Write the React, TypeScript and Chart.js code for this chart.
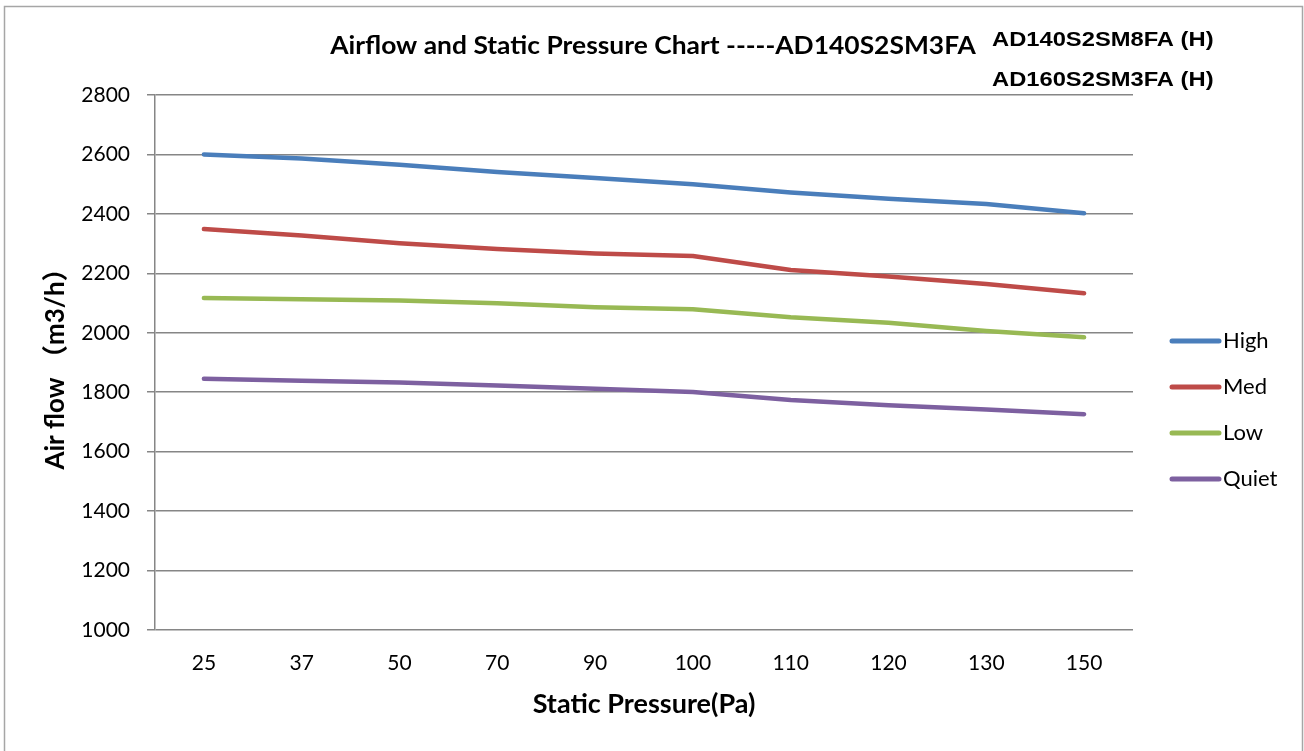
import React, { useEffect, useRef } from 'react';
import { Chart, registerables } from 'chart.js';

Chart.register(...registerables);

const categories = ['25', '37', '50', '70', '90', '100', '110', '120', '130', '150'];
const high = [2600, 2586, 2565, 2541, 2521, 2500, 2472, 2451, 2433, 2402];
const med = [2349, 2327, 2301, 2282, 2267, 2258, 2211, 2189, 2164, 2133];
const low = [2117, 2113, 2109, 2099, 2086, 2079, 2052, 2034, 2006, 1985];
const quiet = [1845, 1839, 1833, 1823, 1812, 1801, 1774, 1756, 1742, 1726];
const seriesNames = ['High', 'Med', 'Low', 'Quiet'];
const seriesColors = ['#4a7ebb', '#be4b48', '#98b954', '#7d60a0'];
const yMin = 1000;
const yMax = 2800;
const yStep = 200;
const titleText = 'Airflow and Static Pressure Chart -----AD140S2SM3FA';
const sideNotes = ['AD140S2SM8FA (H)', 'AD160S2SM3FA (H)'];
const xTitle = 'Static Pressure(Pa)';
const yTitle = 'Air flow （m3/h）';

const W = 1304;
const H = 751;
const GRID = '#868686';

const decorPlugin = {
  id: 'decor',
  beforeDraw(chart: any) {
    const ctx = chart.ctx;
    ctx.save();
    ctx.fillStyle = '#ffffff';
    ctx.fillRect(0, 0, W, H);
    ctx.strokeStyle = '#a6a6a6';
    ctx.lineWidth = 1.5;
    ctx.strokeRect(4.5, 6.5, 1298, 800);
    ctx.restore();
  },
  afterDraw(chart: any) {
    const ctx = chart.ctx;
    ctx.save();
    ctx.fillStyle = '#000000';
    ctx.textBaseline = 'middle';
    ctx.textAlign = 'center';
    ctx.save();
    ctx.translate(653, 46);
    ctx.scale(1.1, 1);
    ctx.font = 'bold 24px Lato';
    ctx.fillText(titleText, 0, 0);
    ctx.restore();
    ctx.textAlign = 'left';
    ctx.save();
    ctx.translate(992, 0);
    ctx.scale(1.13, 1);
    ctx.font = 'bold 21px "Liberation Sans"';
    sideNotes.forEach((t, i) => ctx.fillText(t, 0, 40 + i * 40));
    ctx.restore();
    // legend
    const ds = chart.data.datasets;
    ds.forEach((d: any, i: number) => {
      const y = 341 + i * 46;
      ctx.strokeStyle = d.borderColor;
      ctx.lineWidth = 5;
      ctx.lineCap = 'round';
      ctx.beginPath();
      ctx.moveTo(1172, y);
      ctx.lineTo(1219, y);
      ctx.stroke();
      ctx.fillStyle = '#000000';
      ctx.font = '22px Lato';
      ctx.fillText(d.label, 1223, y);
    });
    ctx.restore();
  },
};

export default function App() {
  const ref = useRef<HTMLCanvasElement>(null);
  useEffect(() => {
    const values = [high, med, low, quiet];
    const chart = new Chart(ref.current as HTMLCanvasElement, {
      type: 'line',
      data: {
        labels: categories,
        datasets: values.map((v, i) => ({
          label: seriesNames[i],
          data: v,
          borderColor: seriesColors[i],
          backgroundColor: seriesColors[i],
          borderWidth: 4.5,
          pointRadius: 0,
          tension: 0,
          borderCapStyle: 'round' as const,
          borderJoinStyle: 'round' as const,
          fill: false,
        })),
      },
      options: {
        responsive: false,
        animation: false,
        layout: { padding: { left: 0, top: 95, right: 171, bottom: 0 } },
        plugins: { legend: { display: false }, tooltip: { enabled: false }, title: { display: false } },
        scales: {
          x: {
            type: 'category',
            offset: true,
            grid: { display: false, drawTicks: false },
            border: { display: false },
            ticks: { font: { family: 'Lato', size: 21 }, color: '#000', padding: 21, maxRotation: 0, autoSkip: false },
            title: {
              display: true,
              text: xTitle,
              color: '#000',
              font: { family: 'Lato', size: 27, weight: 'bold' },
              padding: { top: 0, bottom: 31 },
            },
            afterFit: (s: any) => { s.height = H - 630; },
          },
          y: {
            min: yMin,
            max: yMax,
            ticks: {
              stepSize: yStep,
              font: { family: 'Lato', size: 21 },
              color: '#000',
              padding: 17,
              callback: (v: any) => String(v),
            },
            grid: { color: GRID, lineWidth: 1.5, tickLength: 8, drawTicks: true },
            border: { color: GRID, width: 1.5 },
            title: {
              display: true,
              text: yTitle,
              color: '#000',
              font: { family: 'Lato, "Noto Sans CJK SC"', size: 26, weight: 'bold' },
              padding: { top: 40, bottom: 0 },
            },
            afterFit: (s: any) => { s.width = 155; },
          },
        },
      },
      plugins: [decorPlugin],
    } as any);
    return () => chart.destroy();
  }, []);
  return (
    <div style={{ position: 'fixed', left: 0, top: 0, width: W, height: H, background: '#fff' }}>
      <canvas ref={ref} width={W} height={H} style={{ display: 'block', width: W, height: H }} />
    </div>
  );
}
